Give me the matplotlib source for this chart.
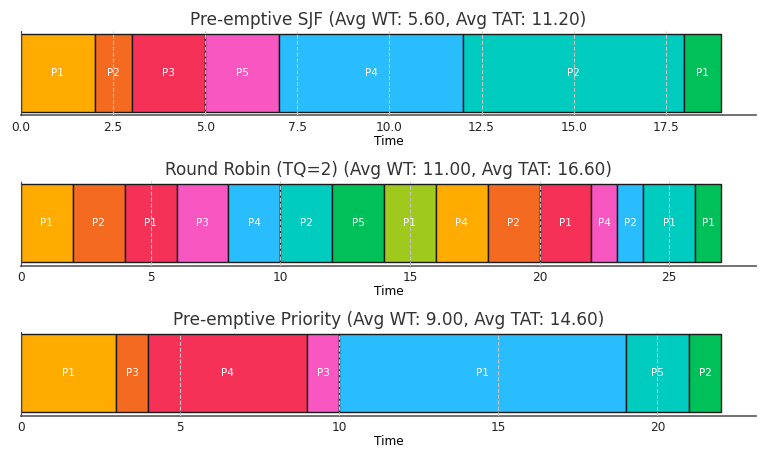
import matplotlib
matplotlib.use('Agg')
import matplotlib.pyplot as plt
from matplotlib.ticker import MultipleLocator

# Gantt segments: (process, start, end)
sjf_procs = ['P1', 'P2', 'P3', 'P5', 'P4', 'P2', 'P1']
sjf_start = [0, 2, 3, 5, 7, 12, 18]
sjf_end = [2, 3, 5, 7, 12, 18, 19]

rr_procs = ['P1', 'P2', 'P1', 'P3', 'P4', 'P2', 'P5', 'P1',
            'P4', 'P2', 'P1', 'P4', 'P2', 'P1', 'P1']
rr_start = [0, 2, 4, 6, 8, 10, 12, 14, 16, 18, 20, 22, 23, 24, 26]
rr_end = [2, 4, 6, 8, 10, 12, 14, 16, 18, 20, 22, 23, 24, 26, 27]

pr_procs = ['P1', 'P3', 'P4', 'P3', 'P1', 'P5', 'P2']
pr_start = [0, 3, 4, 9, 10, 19, 21]
pr_end = [3, 4, 9, 10, 19, 21, 22]

titles = ['Pre-emptive SJF (Avg WT: 5.60, Avg TAT: 11.20)',
          'Round Robin (TQ=2) (Avg WT: 11.00, Avg TAT: 16.60)',
          'Pre-emptive Priority (Avg WT: 9.00, Avg TAT: 14.60)']
tick_steps = [2.5, 5, 5]

palette = ['#FFAB00', '#F46A21', '#F53157', '#F857C1',
           '#29BDFD', '#00CBBF', '#00C159', '#A0C91D']

charts = [(sjf_procs, sjf_start, sjf_end),
          (rr_procs, rr_start, rr_end),
          (pr_procs, pr_start, pr_end)]

fig = plt.figure(figsize=(7.68, 4.61), dpi=100)
tops = [31.5, 181.5, 331.5]
h = 84

for k, (procs, st, en) in enumerate(charts):
    ax = fig.add_axes([21/768, 1 - (tops[k] + h)/461, 735/768, h/461])
    widths = [e - s for s, e in zip(st, en)]
    for i, (p, s, w) in enumerate(zip(procs, st, widths)):
        ax.barh(0.5, w, left=s, height=1.0, color=palette[i % len(palette)],
                edgecolor='#1a1a1a', linewidth=1.0, zorder=1)
        ax.text(s + w/2, 0.5, p, ha='center', va='center',
                color='white', fontsize=7.5, zorder=3)
    total = en[-1]
    ax.set_xlim(0, total*1.05)
    ax.set_ylim(-0.044, 1.033)
    ax.set_yticks([])
    ax.xaxis.set_major_locator(MultipleLocator(tick_steps[k]))
    ax.grid(axis='x', linestyle='--', color='#c4c4c4', linewidth=0.8, zorder=2)
    ax.set_axisbelow(False)
    ax.tick_params(axis='x', length=0, labelsize=8.7, pad=4, colors='#222222')
    for side in ['top', 'right']:
        ax.spines[side].set_visible(False)
    ax.spines['left'].set_color('#444444')
    ax.spines['left'].set_zorder(4)
    ax.spines['bottom'].set_color('#666666')
    ax.spines['bottom'].set_linewidth(1.3)
    ax.set_xlabel('Time', fontsize=8.7, labelpad=1)
    ax.set_title(titles[k], fontsize=12.2, color='#333333', pad=5)

fig.savefig('out.png', dpi=100)
